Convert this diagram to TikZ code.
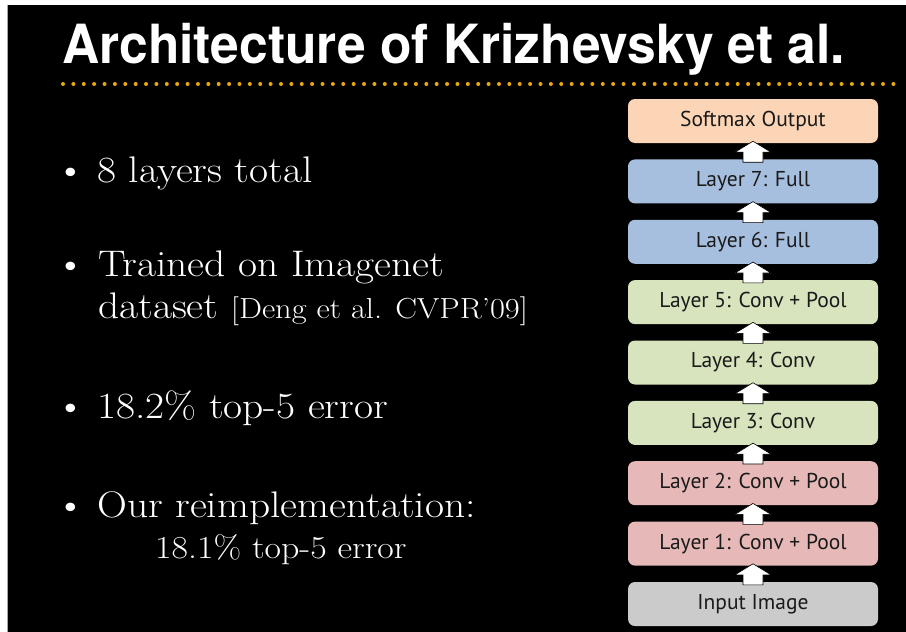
\documentclass[tikz,border=0pt]{standalone}
\usepackage{fontspec}
\usepackage{graphicx}
\usetikzlibrary{calc}
\setmainfont{Latin Modern Roman}[FakeStretch=1.12]
\newfontfamily\boxfont{PT Sans}
\newfontfamily\headfont{TeX Gyre Heros}

\definecolor{peach}{HTML}{FBD5B5}
\definecolor{fullblue}{HTML}{A7BFDE}
\definecolor{convgreen}{HTML}{D7E4BD}
\definecolor{poolred}{HTML}{E6B9B8}
\definecolor{inputgray}{HTML}{CBCBCB}
\definecolor{dotgold}{HTML}{E8A80C}
\definecolor{boxtext}{HTML}{1A1A1A}

\tikzset{
  layerbox/.style={rectangle, rounded corners=7pt, minimum width=250pt,
    minimum height=44pt, inner sep=0pt, text=boxtext,
    font=\boxfont\fontsize{21.5}{24}\selectfont},
  uparrow/.style={fill=white, draw=black, line width=0.6pt, line join=miter},
  bodytext/.style={anchor=base west, inner sep=0pt, text=white,
    font=\fontsize{37}{42}\selectfont},
  bulletmark/.style={anchor=base west, inner sep=0pt, text=white,
    font=\fontsize{38}{42}\selectfont},
}

\begin{document}
\begin{tikzpicture}[x=1pt, y=-1pt]
  \useasboundingbox (0,0) rectangle (906,632);
  \fill[white] (0,0) rectangle (906,632);
  \fill[black] (7,5) rectangle (906,632);
  \draw[gray!70, line width=0.8pt] (7.4,5) -- (7.4,632);

  % heading
  \node[anchor=base west, inner sep=0pt, text=white] (title) at (62,63)
    {\resizebox{783pt}{\height}{\headfont\bfseries\fontsize{54}{60}\selectfont Architecture of Krizhevsky et al.}};

  % dotted rule under the heading
  \foreach \i in {0,...,80} {
    \fill[dotgold] (63+\i*10.38,84) circle (2pt);
  }

  % bullet list
  \node[bulletmark] (b1) at (55,182) {\textbullet};
  \node[bodytext] (t1) at (97,182) {8 layers total};

  \node[bulletmark] (b2) at (55,276) {\textbullet};
  \node[bodytext] (t2) at (98,276) {Trained on Imagenet};
  \node[bodytext] (t2b) at (98,318) {dataset {\fontsize{29}{34}\selectfont [Deng et al. CVPR’09]}};

  \node[bulletmark] (b3) at (55,418) {\textbullet};
  \node[bodytext] (t3) at (97,418) {18.2\% top-5 error};

  \node[bulletmark] (b4) at (55,517) {\textbullet};
  \node[bodytext] (t4) at (97,517) {Our reimplementation:};
  \node[bodytext, font=\fontsize{32}{36}\selectfont] (t4b) at (155,558) {18.1\% top-5 error};

  % network stack
  \node[layerbox, fill=peach]     (soft) at (753,121)   {Softmax Output};
  \node[layerbox, fill=fullblue]  (l7)   at (753,181.4) {Layer 7: Full};
  \node[layerbox, fill=fullblue]  (l6)   at (753,241.8) {Layer 6: Full};
  \node[layerbox, fill=convgreen] (l5)   at (753,302.1) {Layer 5: Conv + Pool};
  \node[layerbox, fill=convgreen] (l4)   at (753,362.5) {Layer 4: Conv};
  \node[layerbox, fill=convgreen] (l3)   at (753,422.9) {Layer 3: Conv};
  \node[layerbox, fill=poolred]   (l2)   at (753,483.2) {Layer 2: Conv + Pool};
  \node[layerbox, fill=poolred]   (l1)   at (753,543.6) {Layer 1: Conv + Pool};
  \node[layerbox, fill=inputgray] (inp)  at (753,604)   {Input Image};

  % block arrows between consecutive layers
  \foreach \lo/\hi in {inp/l1, l1/l2, l2/l3, l3/l4, l4/l5, l5/l6, l6/l7, l7/soft} {
    \draw[uparrow]
      ($(\lo.north)+(-10,3)$) -- ($(\hi.south)+(-10,9)$) --
      ($(\hi.south)+(-18,9)$) -- ($(\hi.south)+(0,-2)$) --
      ($(\hi.south)+(18,9)$) -- ($(\hi.south)+(10,9)$) --
      ($(\lo.north)+(10,3)$) -- cycle;
  }
\end{tikzpicture}
\end{document}
